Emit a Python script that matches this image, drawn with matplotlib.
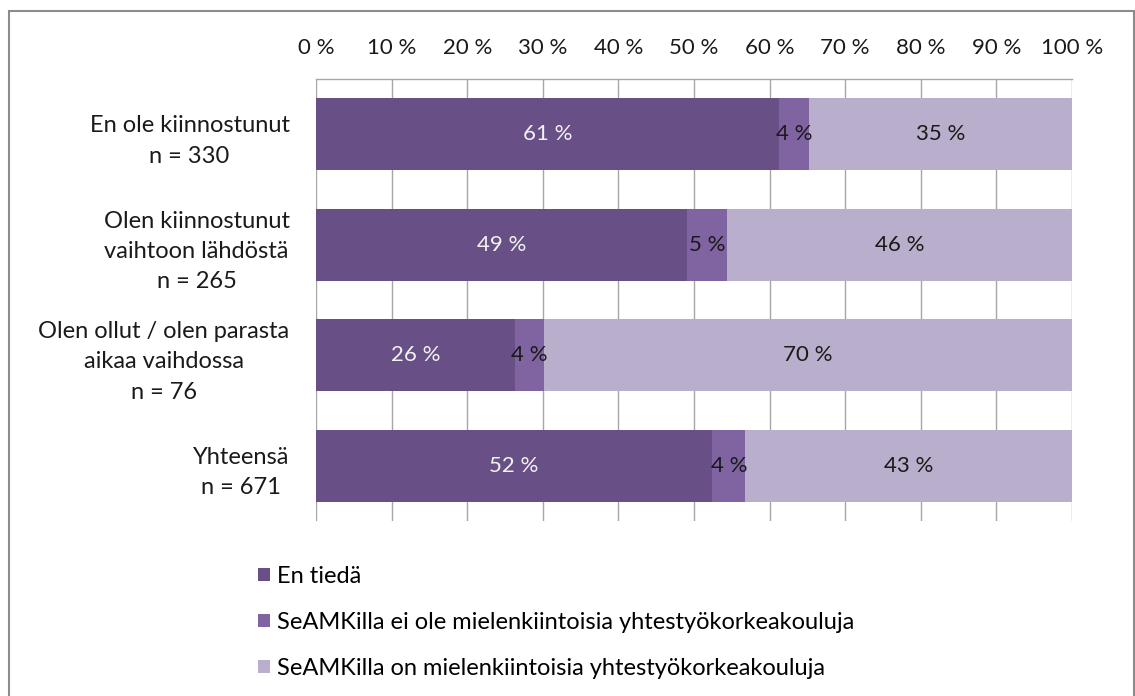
import matplotlib
matplotlib.use("Agg")
import matplotlib.pyplot as plt
from matplotlib.patches import Rectangle

plt.rcParams['font.family'] = ['Lato', 'DejaVu Sans']

categories = ["En ole kiinnostunut\nn = 330",
              "Olen kiinnostunut\nvaihtoon lähdöstä\nn = 265",
              "Olen ollut / olen parasta\naikaa vaihdossa\nn = 76",
              "Yhteensä\nn = 671"]
series_names = ["En tiedä",
                "SeAMKilla ei ole mielenkiintoisia yhtestyökorkeakouluja",
                "SeAMKilla on mielenkiintoisia yhtestyökorkeakouluja"]
en_tieda = [61.2, 49.1, 26.3, 52.4]
ei_ole = [4.0, 5.3, 3.9, 4.4]
on = [34.8, 45.6, 69.8, 43.2]
label_en_tieda = ["61 %", "49 %", "26 %", "52 %"]
label_ei_ole = ["4 %", "5 %", "4 %", "4 %"]
label_on = ["35 %", "46 %", "70 %", "43 %"]
xticks = [0, 10, 20, 30, 40, 50, 60, 70, 80, 90, 100]
xtick_labels = [f"{v} %" for v in xticks]

colors = ["#685086", "#8064A2", "#B9AECB"]
label_colors = ["#F2F2F2", "#1a1a1a", "#1a1a1a"]

W, H = 1135, 696
fig = plt.figure(figsize=(W / 100, H / 100), dpi=100)
fig.patches.append(Rectangle((9 / W, -0.01), (1134 - 9) / W, 1 - 11 / H + 0.01,
                             transform=fig.transFigure, fill=False,
                             edgecolor="#8c8c8c", lw=1.5))
ax = fig.add_axes([316 / W, 1 - 521 / H, (1072 - 316) / W, (521 - 79) / H])

fs = 16
fs_text = 17
y = list(range(len(categories)))
h = 0.65
series = [en_tieda, ei_ole, on]
labels = [label_en_tieda, label_ei_ole, label_on]
left = [0.0] * len(categories)
for vals, col, name, labs, lc in zip(series, colors, series_names, labels, label_colors):
    bars = ax.barh(y, vals, left=left, height=h, color=col, label=name, zorder=2)
    ax.bar_label(bars, labels=labs, label_type="center", color=lc, fontsize=fs)
    left = [l + v for l, v in zip(left, vals)]

ax.set_xlim(0, 100)
ax.set_ylim(len(categories) - 0.5, -0.5)
ax.set_xticks(xticks)
ax.set_xticklabels(xtick_labels, fontsize=fs)
ax.xaxis.tick_top()
ax.tick_params(axis="x", length=0, pad=15, colors="#1a1a1a")
ax.set_yticks(y)
ax.set_yticklabels(categories, fontsize=fs_text)
ax.tick_params(axis="y", length=0, pad=19, colors="#1a1a1a")
for t in ax.get_yticklabels():
    t.set_multialignment("center")
    t.set_linespacing(1.55)
ax.xaxis.grid(True, color="#a6a6a6", lw=1, zorder=0)
ax.set_axisbelow(True)
for s in ["right", "bottom", "left"]:
    ax.spines[s].set_visible(False)
ax.spines["top"].set_color("#a6a6a6")
ax.spines["top"].set_linewidth(1)

fig.legend(loc="upper left", bbox_to_anchor=(258 / W, 1 - 566 / H),
           frameon=False, fontsize=fs_text, handlelength=0.5, handleheight=0.5,
           handletextpad=0.3, labelspacing=1.06, borderpad=0, borderaxespad=0)

fig.savefig("out.png", dpi=100)
